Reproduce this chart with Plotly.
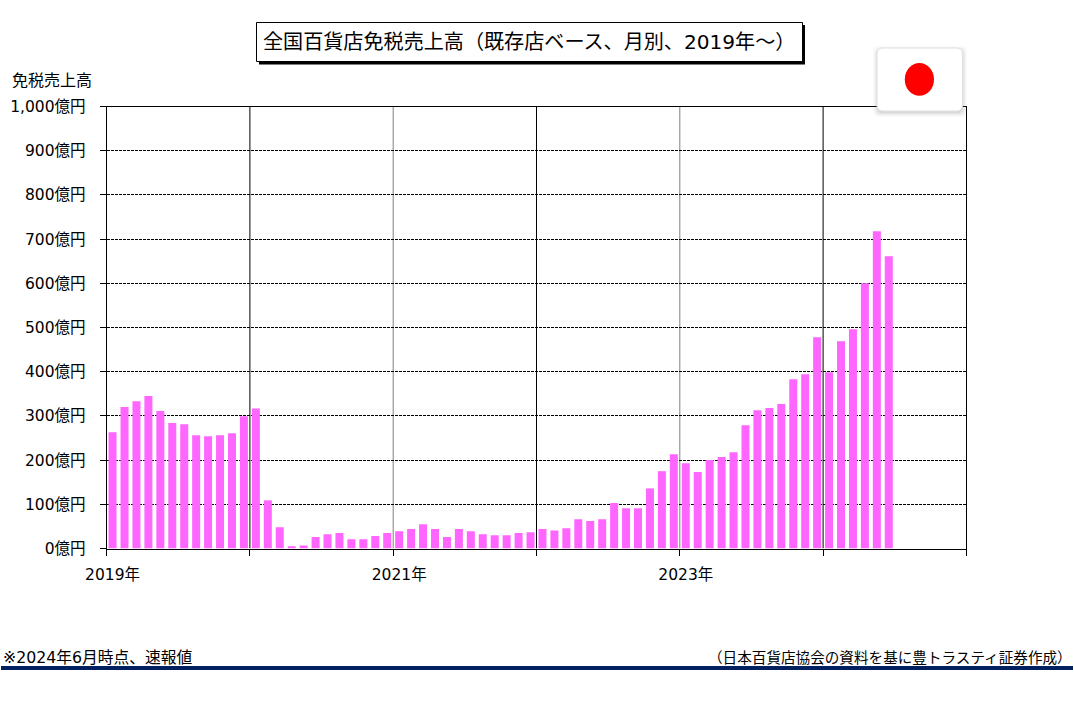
import plotly.graph_objects as go

W, H = 1074, 707
FONT = "DejaVu Sans, Noto Sans CJK JP"

# Monthly duty-free sales (100 million yen)
sales_2019 = [263, 320, 333, 345, 311, 284, 281, 256, 254, 256, 261, 299]
sales_2020 = [317, 109, 48, 5, 7, 26, 32, 35, 21, 21, 28, 35]
sales_2021 = [39, 44, 55, 44, 26, 44, 39, 32, 30, 30, 35, 37]
sales_2022 = [44, 41, 46, 66, 62, 66, 103, 91, 91, 136, 175, 213]
sales_2023 = [193, 173, 200, 207, 218, 279, 313, 318, 327, 383, 394, 478]
sales_2024 = [399, 469, 496, 600, 718, 661]
values = sales_2019 + sales_2020 + sales_2021 + sales_2022 + sales_2023 + sales_2024
months = list(range(len(values)))

y_ticks = [0, 100, 200, 300, 400, 500, 600, 700, 800, 900, 1000]
y_labels = ["0億円", "100億円", "200億円", "300億円", "400億円", "500億円",
            "600億円", "700億円", "800億円", "900億円", "1,000億円"]
year_ticks = [0, 24, 48]
year_labels = ["2019年", "2021年", "2023年"]
black_grid = [11.5, 35.5, 59.5]
grey_grid = [23.5, 47.5]
boundaries = [-0.5, 11.5, 23.5, 35.5, 47.5, 59.5, 71.5]


def px(v):
    return v / W


def py(v):
    return 1 - v / H


def rect(x0, y0, x1, y1, fill, line=None, lw=0, opacity=1, layer="above"):
    return dict(type="rect", xref="paper", yref="paper", x0=px(x0), x1=px(x1),
                y0=py(y0), y1=py(y1), fillcolor=fill, opacity=opacity, layer=layer,
                line=dict(color=line or fill, width=lw))


def rounded(x0, y0, x1, y1, r, fill, line=None, lw=0, opacity=1):
    a, b, c, d = px(x0), px(x1), py(y0), py(y1)
    rx, ry = r / W, r / H
    path = (f"M {a+rx} {c} L {b-rx} {c} Q {b} {c} {b} {c-ry} L {b} {d+ry} Q {b} {d} {b-rx} {d} "
            f"L {a+rx} {d} Q {a} {d} {a} {d+ry} L {a} {c-ry} Q {a} {c} {a+rx} {c} Z")
    return dict(type="path", xref="paper", yref="paper", path=path, fillcolor=fill,
                opacity=opacity, layer="above", line=dict(color=line or fill, width=lw))


fig = go.Figure()
fig.add_trace(go.Bar(x=months, y=values, marker=dict(color="#FF66FF", line=dict(width=0)),
                     width=0.67, hoverinfo="skip", cliponaxis=True))
# carries the boundary tick marks of the second x axis
fig.add_trace(go.Scatter(x=[], y=[], xaxis="x2", showlegend=False, hoverinfo="skip"))

shapes = []
for v in black_grid:
    shapes.append(dict(type="line", xref="x", yref="y", x0=v, x1=v, y0=0, y1=1000, layer="below",
                       line=dict(color="#000000", width=1)))
for v in grey_grid:
    shapes.append(dict(type="line", xref="x", yref="y", x0=v, x1=v, y0=0, y1=1000, layer="below",
                       line=dict(color="#808080", width=1)))

# title box with hard shadow
shapes.append(rect(259, 25, 805, 64.5, "#000000"))
shapes.append(rect(256.5, 22.5, 802.5, 61.5, "#FFFFFF", "#000000", 1))
# flag card with soft shadow
for grow, op in ((5, 0.04), (4, 0.05), (3, 0.06), (2, 0.08), (1, 0.10)):
    shapes.append(rounded(877 - grow + 1, 51 - grow, 963 + grow - 1, 112 + grow, 6, "#808080", opacity=op))
shapes.append(rounded(877, 48, 962.5, 111, 6, "#FFFFFF", "#E0E0E0", 1))
shapes.append(dict(type="circle", xref="paper", yref="paper", x0=px(904.8), x1=px(934),
                   y0=py(63), y1=py(95.8), fillcolor="#FF0000", layer="above", line=dict(width=0)))
# bottom rule
shapes.append(rect(1, 666, 1073, 670, "#002060"))


def note(text, x, y, anchor, size):
    return dict(text=text, xref="paper", yref="paper", x=px(x), y=py(y), xanchor=anchor,
                yanchor="middle", showarrow=False, font=dict(family=FONT, size=size, color="#000000"))


annotations = [
    note("全国百貨店免税売上高（既存店ベース、月別、2019年～）", 261, 42, "left", 20.1),
    note("免税売上高", 10, 80.5, "left", 16),
    note("※2024年6月時点、速報値", 1, 657, "left", 15.75),
    note("（日本百貨店協会の資料を基に豊トラスティ証券作成）", 1074, 657, "right", 14.6),
]

fig.update_layout(
    width=W, height=H, margin=dict(l=0, r=0, t=0, b=0, autoexpand=False), autosize=False,
    paper_bgcolor="#FFFFFF", plot_bgcolor="#FFFFFF", showlegend=False,
    font=dict(family=FONT, size=15.5, color="#000000"),
    bargap=0.33, shapes=shapes, annotations=annotations,
    xaxis=dict(domain=[106.6 / W, 966.4 / W], range=[-0.5, 71.5], tickmode="array",
               tickvals=year_ticks, ticktext=year_labels, ticks="", showgrid=False, zeroline=False,
               showline=True, linecolor="#000000", linewidth=1, mirror=True,
               ticklabelstandoff=12, tickfont=dict(family=FONT, size=15.5, color="#000000")),
    xaxis2=dict(domain=[106.6 / W, 966.4 / W], range=[-0.5, 71.5], overlaying="x", anchor="y", side="bottom",
                tickmode="array", tickvals=boundaries, ticks="outside", ticklen=6, tickcolor="#000000",
                tickwidth=1, showticklabels=False, showgrid=False, zeroline=False, showline=False),
    yaxis=dict(domain=[1 - 548.5 / H, 1 - 106.5 / H], range=[0, 1000], tickmode="array",
               tickvals=y_ticks, ticktext=y_labels, ticks="outside", ticklen=6, tickcolor="#000000",
               ticklabelstandoff=11, showgrid=True, gridcolor="#000000", gridwidth=1, griddash="3px,1px",
               zeroline=False, showline=True, linecolor="#000000", linewidth=1, mirror=True,
               tickfont=dict(family=FONT, size=15.5, color="#000000")),
)

fig.write_html("out.html", config={"displayModeBar": False},
               post_script="document.body.style.margin='0';document.body.style.overflow='hidden';")
